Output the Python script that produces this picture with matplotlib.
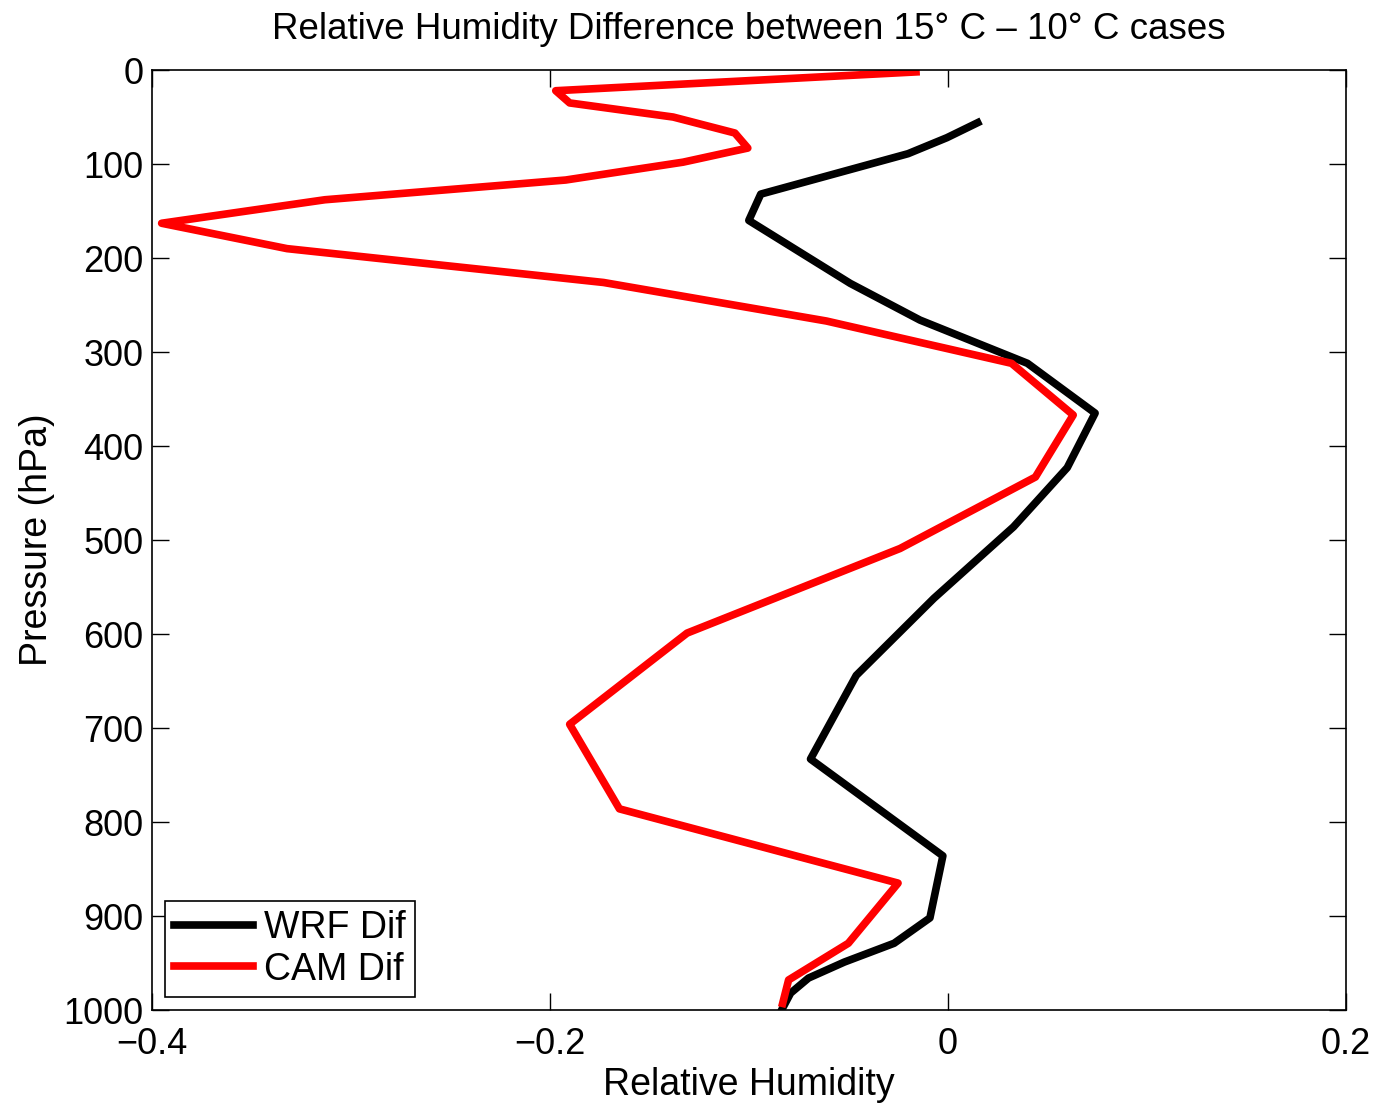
import matplotlib
matplotlib.use("Agg")
import matplotlib.pyplot as plt

# WRF difference profile (relative humidity, pressure hPa)
wrf_rh = [0.015, -0.0005, -0.020, -0.094, -0.100, -0.049, -0.014, 0.040, 0.074,
          0.060, 0.033, -0.007, -0.046, -0.069, -0.0025, -0.009, -0.027, -0.052,
          -0.070, -0.079, -0.083]
wrf_p = [56, 72, 89, 132, 160, 227, 266, 312, 365,
         423, 486, 562, 644, 733, 836, 902, 929, 949,
         966, 982, 998]

# CAM difference profile
cam_rh = [-0.016, -0.197, -0.190, -0.138, -0.107, -0.1005, -0.133, -0.192, -0.313,
          -0.395, -0.332, -0.173, -0.061, 0.032, 0.063, 0.044, -0.024, -0.131,
          -0.190, -0.165, -0.025, -0.050, -0.080, -0.083]
cam_p = [2, 22, 35, 50, 67, 83, 98, 117, 138,
         163, 190, 226, 267, 312, 367, 433, 509, 599,
         696, 786, 865, 929, 968, 993]

plt.rcParams['font.family'] = ['Liberation Sans', 'DejaVu Sans']

fig = plt.figure(figsize=(13.79, 11.03), dpi=100)
ax = fig.add_axes([0.110, 0.0843, 0.866, 0.8522])

ax.plot(wrf_rh, wrf_p, color='black', lw=5.5, label='WRF Dif')
ax.plot(cam_rh, cam_p, color='red', lw=5.5, label='CAM Dif')

ax.set_xlim(-0.4, 0.2)
ax.set_ylim(1000, 0)
ax.set_xticks([-0.4, -0.2, 0, 0.2])
ax.set_xticklabels(['\u22120.4', '\u22120.2', '0', '0.2'])
ax.set_yticks(range(0, 1001, 100))
ax.tick_params(direction='in', top=True, right=True, length=12, width=1,
               labelsize=26)
ax.tick_params(axis='x', pad=12)
ax.tick_params(axis='y', pad=6)
for s in ax.spines.values():
    s.set_linewidth(1.2)

ax.set_xlabel('Relative Humidity', fontsize=27, labelpad=4)
ax.set_ylabel('Pressure (hPa)', fontsize=27, labelpad=6)
ax.set_title('Relative Humidity Difference between 15\u00b0 C \u2013 10\u00b0 C cases',
             fontsize=26.5, pad=22)

leg = ax.legend(loc='lower left', fontsize=27, fancybox=False, framealpha=1,
                edgecolor='black', handlelength=2.1, handletextpad=0.3,
                borderpad=0.25, labelspacing=0.15, borderaxespad=0.35)
leg.get_frame().set_linewidth(1.2)

fig.savefig('out.png', dpi=100)
